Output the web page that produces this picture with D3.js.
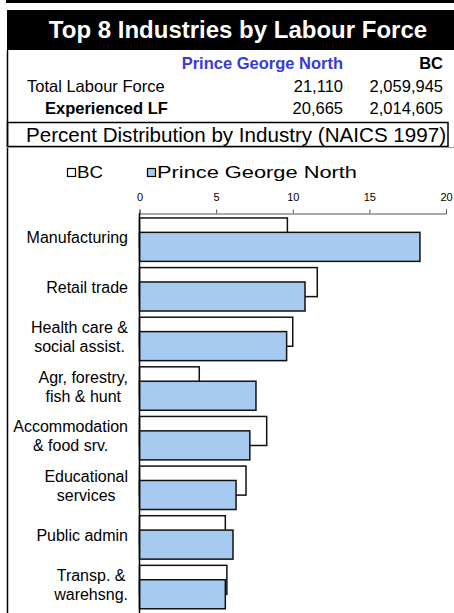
<!DOCTYPE html>
<html>
<head>
<meta charset="utf-8">
<script src="https://cdn.jsdelivr.net/npm/d3@7"></script>
<style>
  body { margin: 0; background: #fff; }
  svg text { font-family: "Liberation Sans", Arial, sans-serif; }
</style>
</head>
<body>
<div class="chart-container"></div>
<script>
// data
var industries = [
  ['Manufacturing'],
  ['Retail trade'],
  ['Health care &', 'social assist.'],
  ['Agr, forestry,', 'fish & hunt'],
  ['Accommodation', '& food srv.'],
  ['Educational', 'services'],
  ['Public admin'],
  ['Transp. &', 'warehsng.']
];
var bcValues = [9.65, 11.6, 10.0, 3.9, 8.3, 6.95, 5.6, 5.7];
var pgnValues = [18.3, 10.8, 9.6, 7.6, 7.2, 6.3, 6.1, 5.6];
var xTicks = [0, 5, 10, 15, 20];
var seriesNames = ['BC', 'Prince George North'];
var tableRows = [
  {label: 'Total Labour Force', pgn: '21,110', bc: '2,059,945', bold: false},
  {label: 'Experienced LF', pgn: '20,665', bc: '2,014,605', bold: true}
];

var W = 454, H = 613;
var pgnColor = '#a6caf0', blueText = '#3a3ad6';

var svg = d3.select('.chart-container').append('svg')
  .attr('width', W)
  .attr('height', H);

// header
svg.append('rect').attr('x', 6).attr('y', 0).attr('width', W - 6).attr('height', 3).attr('fill', '#000');
svg.append('rect').attr('x', 7).attr('y', 10).attr('width', W - 7).attr('height', 40).attr('fill', '#000');
svg.append('text')
  .text('Top 8 Industries by Labour Force')
  .attr('x', 238).attr('y', 38)
  .attr('fill', '#fff')
  .style('font-size', '24px').style('font-weight', 'bold')
  .style('text-anchor', 'middle');

// table
svg.append('line').attr('x1', 7.5).attr('x2', 7.5).attr('y1', 50).attr('y2', 613)
  .attr('stroke', '#000').attr('stroke-width', 1.5);

svg.append('text').text('Prince George North')
  .attr('x', 343).attr('y', 69).attr('fill', blueText)
  .style('font-size', '16.5px').style('font-weight', 'bold').style('text-anchor', 'end');
svg.append('text').text('BC')
  .attr('x', 443).attr('y', 69)
  .style('font-size', '16.5px').style('font-weight', 'bold').style('text-anchor', 'end');

var rows = svg.selectAll('.trow')
  .data(tableRows)
  .enter().append('g')
    .attr('class', 'trow')
    .attr('transform', function(d, i) { return 'translate(0,' + (92 + i * 22) + ')'; })
    .style('font-size', '16.5px');
rows.append('text').attr('x', function(d) { return d.bold ? 45 : 27; })
  .style('font-weight', function(d) { return d.bold ? 'bold' : 'normal'; })
  .text(function(d) { return d.label; });
rows.append('text').attr('x', 343).style('text-anchor', 'end').text(function(d) { return d.pgn; });
rows.append('text').attr('x', 443).style('text-anchor', 'end').text(function(d) { return d.bc; });

// subtitle box
svg.append('rect').attr('x', 7.5).attr('y', 122.5).attr('width', 440.5).attr('height', 24)
  .attr('fill', 'none').attr('stroke', '#000').attr('stroke-width', 1.5);
svg.append('text').text('Percent Distribution by Industry (NAICS 1997)')
  .attr('x', 236).attr('y', 141.5)
  .style('font-size', '20.6px').style('text-anchor', 'middle');
svg.append('line').attr('x1', 7).attr('x2', W).attr('y1', 147.5).attr('y2', 147.5)
  .attr('stroke', '#999').attr('stroke-width', 1);

// scales
var x = d3.scaleLinear().domain([0, 20]).range([139.5, 446]);
var y = d3.scaleBand().domain(d3.range(industries.length)).range([213, 610]);
var bw = y.bandwidth();

// legend (text runs wide in the original picture)
var legend = svg.selectAll('.legend')
  .data(seriesNames)
  .enter().append('g')
    .attr('class', 'legend')
    .attr('transform', function(d, i) { return 'translate(' + (i === 0 ? 67 : 147) + ',168)'; });
legend.append('rect')
  .attr('x', 0.5).attr('y', 0.5).attr('width', 8).attr('height', 8)
  .attr('fill', function(d, i) { return i === 0 ? '#fff' : pgnColor; })
  .attr('stroke', '#000').attr('stroke-width', 1.2);
legend.append('text')
  .attr('x', 10).attr('y', 10)
  .attr('textLength', function(d, i) { return i === 0 ? 26 : 200; })
  .attr('lengthAdjust', 'spacingAndGlyphs')
  .style('font-size', '16px')
  .text(function(d) { return d; });

// top axis
var xAxis = d3.axisTop(x).tickValues(xTicks).tickSize(4).tickSizeOuter(4);
var gx = svg.append('g').attr('transform', 'translate(0,213.5)').call(xAxis);
gx.select('.domain').attr('stroke', '#555');
gx.selectAll('.tick line').attr('stroke', '#555');
gx.selectAll('.tick text').attr('y', -13).attr('fill', '#000')
  .style('font-size', '11px').style('font-family', '"Liberation Sans", Arial, sans-serif');

// bars: BC behind, Prince George North in front
svg.selectAll('.bar-bc')
  .data(bcValues)
  .enter().append('rect')
    .attr('class', 'bar-bc')
    .attr('x', x(0))
    .attr('y', function(d, i) { return y(i) + bw * 0.1; })
    .attr('width', function(d) { return x(d) - x(0); })
    .attr('height', bw * 0.585)
    .attr('fill', '#fff')
    .attr('stroke', '#111').attr('stroke-width', 1.5);

svg.selectAll('.bar-pgn')
  .data(pgnValues)
  .enter().append('rect')
    .attr('class', 'bar-pgn')
    .attr('x', x(0))
    .attr('y', function(d, i) { return y(i) + bw * 0.39; })
    .attr('width', function(d) { return x(d) - x(0); })
    .attr('height', bw * 0.585)
    .attr('fill', pgnColor)
    .attr('stroke', '#111').attr('stroke-width', 1.5);

// left axis line
svg.append('line').attr('x1', x(0)).attr('x2', x(0)).attr('y1', 213).attr('y2', H)
  .attr('stroke', '#000').attr('stroke-width', 1.5);

// category labels, lines centred, block right-aligned
var labels = svg.selectAll('.cat')
  .data(industries)
  .enter().append('text')
    .attr('class', 'cat')
    .style('font-size', '16px')
    .style('text-anchor', 'middle');
labels.each(function(lines, i) {
  var t = d3.select(this);
  var lh = 19;
  var y0 = y(i) + bw / 2 - (lines.length - 1) * lh / 2 + 5.5;
  lines.forEach(function(s, j) {
    t.append('tspan').attr('y', y0 + j * lh).text(s);
  });
  var maxW = 0;
  t.selectAll('tspan').each(function() { maxW = Math.max(maxW, this.getComputedTextLength()); });
  t.selectAll('tspan').attr('x', 128 - maxW / 2);
});
</script>
</body>
</html>
